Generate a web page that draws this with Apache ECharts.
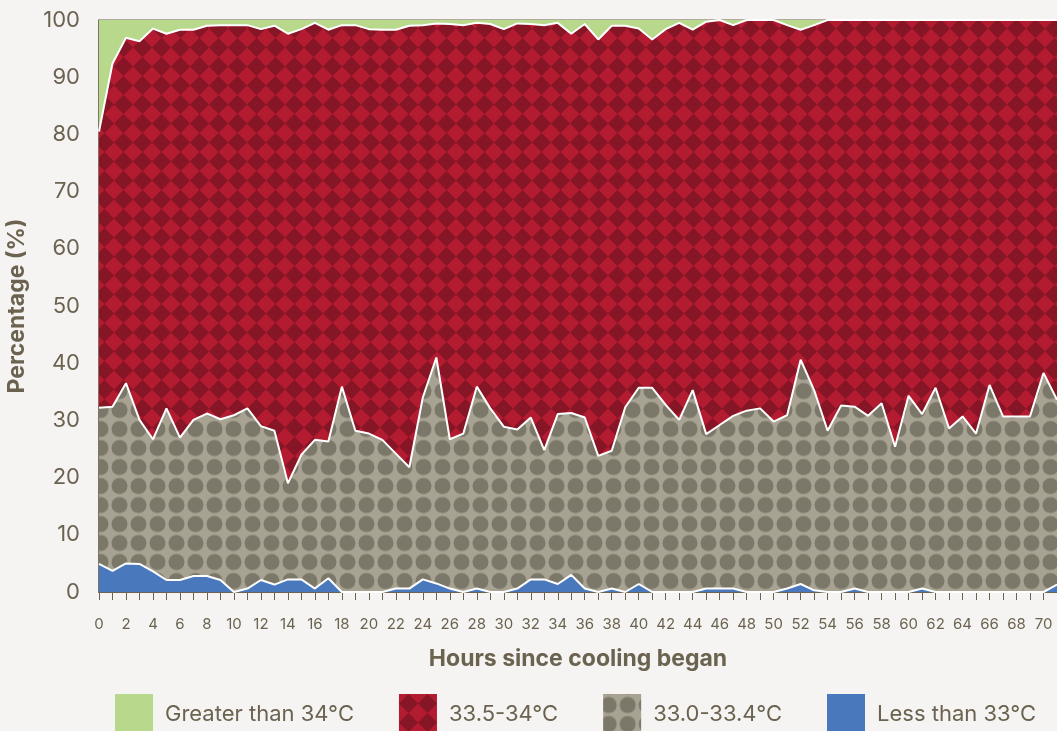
<!DOCTYPE html>
<html><head><meta charset="utf-8">
<script src="https://cdn.jsdelivr.net/npm/echarts@6/dist/echarts.min.js"></script>
<style>html,body{margin:0;padding:0;background:#f5f4f2}#c{width:1057px;height:731px}</style>
</head><body><div id="c"></div>
<script>
const hours = [0,1,2,3,4,5,6,7,8,9,10,11,12,13,14,15,16,17,18,19,20,21,22,23,24,25,26,27,28,29,30,31,32,33,34,35,36,37,38,39,40,41,42,43,44,45,46,47,48,49,50,51,52,53,54,55,56,57,58,59,60,61,62,63,64,65,66,67,68,69,70,71];
const seriesNames = ['Less than 33°C','33.0-33.4°C','33.5-34°C','Greater than 34°C'];
const legendOrder = ['Greater than 34°C','33.5-34°C','33.0-33.4°C','Less than 33°C'];
const lessThan33 = [4.9,3.7,5.0,4.9,3.6,2.1,2.1,2.8,2.8,2.1,0,0.6,2.1,1.3,2.2,2.2,0.6,2.4,0,0,0,0,0.6,0.6,2.2,1.5,0.6,0,0.6,0,0,0.6,2.2,2.2,1.4,3.0,0.6,0,0.6,0,1.4,0,0,0,0,0.6,0.6,0.6,0,0,0,0.6,1.4,0.3,0,0,0.6,0,0,0,0,0.6,0,0,0,0,0,0,0,0,0,1.3];
const range330to334 = [27.3,28.7,31.5,25.2,23.1,30.0,24.9,27.3,28.4,28.1,30.9,31.5,26.9,26.9,16.8,21.8,26.0,23.9,35.9,28.2,27.7,26.6,23.6,21.2,31.8,39.5,26.1,27.7,35.3,32.1,28.9,27.8,28.3,22.6,29.7,28.3,29.9,23.8,24.1,32.3,34.3,35.7,32.7,30.1,35.3,27.0,28.6,30.2,31.7,32.1,29.8,30.3,39.2,35.0,28.2,32.6,31.8,30.8,33.0,25.4,34.3,30.5,35.7,28.6,30.7,27.7,36.2,30.7,30.7,30.7,38.3,32.3];
const range335to34 = [48.3,60.0,60.4,66.2,71.8,65.5,71.3,68.2,67.8,68.9,68.2,67.0,69.4,70.8,78.6,74.4,72.9,72.0,63.2,70.9,70.7,71.7,74.1,77.2,65.1,58.4,72.6,71.4,63.6,67.2,69.5,71.0,68.8,74.3,68.4,66.3,68.8,72.8,74.3,66.7,62.8,60.9,65.7,69.4,63.0,72.1,70.8,68.3,68.3,67.9,70.2,68.2,57.7,63.8,71.8,67.4,67.6,69.2,67.0,74.6,65.7,68.9,64.3,71.4,69.3,72.3,63.8,69.3,69.3,69.3,61.7,66.4];
const greaterThan34 = [19.5,7.6,3.1,3.7,1.5,2.4,1.7,1.7,1.0,0.9,0.9,0.9,1.6,1.0,2.4,1.6,0.5,1.7,0.9,0.9,1.6,1.7,1.7,1.0,0.9,0.6,0.7,0.9,0.5,0.7,1.6,0.6,0.7,0.9,0.5,2.4,0.7,3.4,1.0,1.0,1.5,3.4,1.6,0.5,1.7,0.3,0,0.9,0,0,0,0.9,1.7,0.9,0,0,0,0,0,0,0,0,0,0,0,0,0,0,0,0,0,0];
const yTicks = [0,10,20,30,40,50,60,70,80,90,100];

const TXT = '#6b6350';
const P = 19;
function diamondTile(){
  const c = document.createElement('canvas'); c.width = P; c.height = P;
  const g = c.getContext('2d');
  g.fillStyle = '#b31b30'; g.fillRect(0,0,P,P);
  g.fillStyle = '#861526';
  g.beginPath(); g.moveTo(P/2,0); g.lineTo(P,P/2); g.lineTo(P/2,P); g.lineTo(0,P/2); g.closePath(); g.fill();
  return c;
}
function dotTile(){
  const c = document.createElement('canvas'); c.width = P; c.height = P;
  const g = c.getContext('2d');
  g.fillStyle = '#a7a291'; g.fillRect(0,0,P,P);
  g.fillStyle = '#7b786a';
  g.beginPath(); g.arc(P/2,P/2,8,0,Math.PI*2); g.fill();
  return c;
}
const redPat = {image: diamondTile(), repeat: 'repeat'};
const grayPat = {image: dotTile(), repeat: 'repeat', x: 15, y: 1.5};
const fills = {
  'Less than 33°C': '#4a78bd',
  '33.0-33.4°C': grayPat,
  '33.5-34°C': redPat,
  'Greater than 34°C': '#b8d98c'
};
const dataMap = {
  'Less than 33°C': lessThan33,
  '33.0-33.4°C': range330to334,
  '33.5-34°C': range335to34,
  'Greater than 34°C': greaterThan34
};

const chart = echarts.init(document.getElementById('c'), null, {renderer: 'canvas'});
const FONT = 'Inter, "Open Sans", sans-serif';
chart.setOption({
  backgroundColor: '#f5f4f2',
  animation: false,
  textStyle: {fontFamily: FONT},
  grid: {left: 99, right: 0, top: 20, bottom: 139, show: true, borderColor: TXT, borderWidth: 1,
         backgroundColor: 'transparent', containLabel: false, outerBoundsMode: 'none'},
  legend: {
    top: 694, left: 115, padding: 0,
    itemWidth: 38, itemHeight: 40, itemGap: 45,
    icon: 'rect',
    textStyle: {color: TXT, fontSize: 22, fontFamily: FONT, padding: [0,0,0,7]},
    data: legendOrder.map(n => ({name: n, icon: 'rect', itemStyle: {color: fills[n], borderWidth: 0}}))
  },
  xAxis: {
    type: 'category', data: hours, boundaryGap: false,
    name: 'Hours since cooling began', nameLocation: 'middle', nameGap: 56,
    nameTextStyle: {color: TXT, fontSize: 23, fontWeight: 'bold', fontFamily: FONT},
    axisLine: {lineStyle: {color: TXT, width: 2}},
    axisTick: {show: true, interval: 0, length: 8, lineStyle: {color: TXT, width: 1}},
    axisLabel: {interval: 1, color: TXT, fontSize: 15, margin: 25, fontFamily: FONT},
    splitLine: {show: false}
  },
  yAxis: {
    type: 'value', min: yTicks[0], max: yTicks[yTicks.length-1], interval: 10,
    name: 'Percentage (%)', nameLocation: 'middle', nameGap: 70, nameRotate: 90,
    nameTextStyle: {color: TXT, fontSize: 23, fontWeight: 'bold', fontFamily: FONT},
    axisLine: {show: true, lineStyle: {color: TXT, width: 1.5}},
    axisTick: {show: false},
    axisLabel: {color: TXT, fontSize: 22, margin: 19, fontFamily: FONT},
    splitLine: {show: false}
  },
  series: seriesNames.map((n, i) => ({
    name: n, type: 'line', stack: 'total', symbol: 'none', showSymbol: false,
    z: 10 - i,
    data: dataMap[n],
    itemStyle: {color: fills[n]},
    lineStyle: {color: '#ffffff', width: n === 'Greater than 34°C' ? 0 : 2},
    areaStyle: {color: fills[n], opacity: 1},
    emphasis: {disabled: true}
  }))
});
</script>
</body></html>
